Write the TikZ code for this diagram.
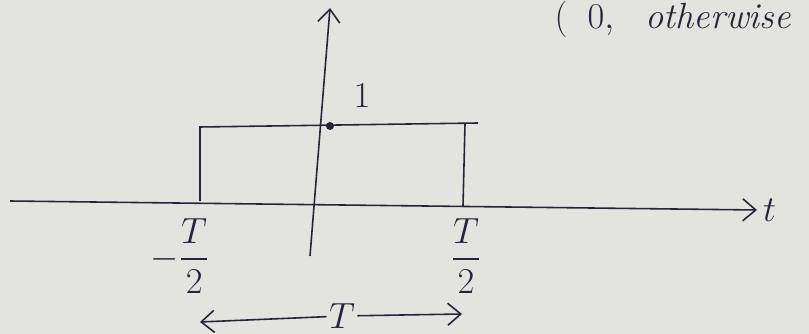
\documentclass[tikz,border=0pt]{standalone}
\usepackage{amsmath}
\usetikzlibrary{arrows.meta, positioning}
\definecolor{paper}{HTML}{E3E4DF}
\definecolor{ink}{HTML}{25253A}

\begin{document}
\begin{tikzpicture}[x=0.02cm, y=-0.02cm,
      >={Straight Barb[length=2.6mm, width=4.4mm]}, line width=0.9pt,
      draw=ink,
      lbl/.style={text=ink, inner sep=1pt, font=\huge},
      pt/.style={circle, fill=ink, inner sep=0pt, minimum size=1.6mm}]
    \fill[paper] (0,0) rectangle (809,334);
    \useasboundingbox (0,0) rectangle (809,334);

    % axes
    \coordinate (tl) at (10,201);
    \coordinate (tr) at (757,210);
    \coordinate (yb) at (310,256);
    \coordinate (yt) at (330,8);
    \draw[->] (tl) -- (tr);
    \draw[->] (yb) -- (yt);
    \node[lbl, right=2pt of tr] (tlab) {$t$};

    % pulse
    \coordinate (lb) at (200,201);
    \coordinate (lt) at (200,127);
    \coordinate (re) at (478,123);
    \coordinate (rt) at (465,124);
    \coordinate (rb) at (463,206);
    \draw (lb) -- (lt) -- (re);
    \draw (rt) -- (rb);
    \node[pt] (top) at (330,126) {};
    \node[lbl] (one) at (362,96) {$1$};

    % ticks
    \node[lbl] (mhalf) at (180,256) {$-\dfrac{T}{2}$};
    \node[lbl] (phalf) at (466,256) {$\dfrac{T}{2}$};

    % width
    \node[lbl] (wid) at (342,316) {$T$};
    \coordinate (wl) at (200,322);
    \coordinate (wr) at (462,314);
    \draw[->] (wid) -- (wl);
    \draw[->] (wid) -- (wr);

    % note at top edge
    \node[lbl, anchor=west] (note) at (552,19) {$(\;\;0,$\;\; \textit{otherwise}};
\end{tikzpicture}
\end{document}
